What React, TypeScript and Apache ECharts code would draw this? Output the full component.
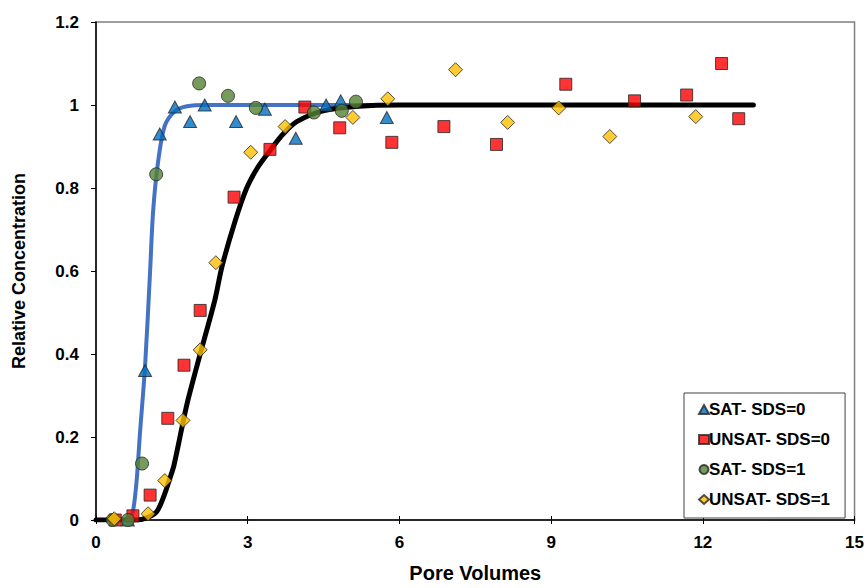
import React, { useEffect, useRef } from "react";
import * as echarts from "echarts";

// Measured data (Pore Volumes, Relative Concentration)
const satSds0: [number, number][] = [
  [0.63, 0], [0.97, 0.36], [1.26, 0.93], [1.56, 0.995], [1.86, 0.96], [2.15, 1.0],
  [2.77, 0.96], [3.34, 0.99], [3.95, 0.92], [4.55, 1.0], [4.84, 1.01], [5.75, 0.97],
];
const unsatSds0: [number, number][] = [
  [0.38, 0], [0.73, 0.01], [1.07, 0.06], [1.42, 0.245], [1.74, 0.373], [2.06, 0.505],
  [2.73, 0.778], [3.44, 0.893], [4.13, 0.995], [4.82, 0.945], [5.85, 0.91], [6.88, 0.948],
  [7.92, 0.905], [9.29, 1.05], [10.65, 1.01], [11.68, 1.024], [12.37, 1.1], [12.71, 0.967],
];
const satSds1: [number, number][] = [
  [0.33, 0], [0.63, 0], [0.91, 0.136], [1.19, 0.833], [2.04, 1.052], [2.61, 1.022],
  [3.16, 0.993], [4.31, 0.982], [4.86, 0.986], [5.14, 1.008],
];
const unsatSds1: [number, number][] = [
  [0.36, 0.003], [1.03, 0.015], [1.36, 0.095], [1.72, 0.24], [2.06, 0.41], [2.37, 0.62],
  [3.06, 0.886], [3.74, 0.948], [5.08, 0.97], [5.77, 1.015], [7.11, 1.085], [8.14, 0.958],
  [9.15, 0.993], [10.16, 0.924], [11.86, 0.972],
];
// Fitted curves
const satFit: [number, number][] = [
  [0, 0], [0.6, 0], [0.67, 0.004], [0.73, 0.02], [0.8, 0.09], [0.87, 0.21], [0.97, 0.37],
  [1.07, 0.6], [1.13, 0.745], [1.23, 0.865], [1.36, 0.95], [1.56, 0.985], [1.8, 0.997],
  [2.2, 1.0], [6, 1.0],
];
const unsatFit: [number, number][] = [
  [0, 0], [0.8, 0], [1.0, 0.005], [1.2, 0.02], [1.35, 0.06], [1.46, 0.1], [1.54, 0.131],
  [1.72, 0.235], [1.82, 0.29], [2.06, 0.4], [2.35, 0.53], [2.49, 0.61], [2.75, 0.72],
  [2.98, 0.8], [3.2, 0.85], [3.44, 0.89], [3.7, 0.93], [3.97, 0.96], [4.49, 0.986],
  [5.2, 0.997], [6, 1.0], [13, 1.0],
];
const seriesNames = ["SAT- SDS=0", "UNSAT- SDS=0", "SAT- SDS=1", "UNSAT- SDS=1"];
const xTicks = { min: 0, max: 15, interval: 3 };
const yTicks = { min: 0, max: 1.2, interval: 0.2 };

const FONT = "'Liberation Sans', Arial, sans-serif";

export default function App() {
  const ref = useRef<HTMLDivElement>(null);
  useEffect(() => {
    if (!ref.current) return;
    const chart = echarts.init(ref.current, undefined, { renderer: "svg" });
    const border = { borderColor: "#262626", borderWidth: 1 };
    chart.setOption({
      animation: false,
      backgroundColor: "#ffffff",
      textStyle: { fontFamily: FONT },
      grid: {
        left: 96, right: 12, top: 22, bottom: 63,
        show: true, borderColor: "#808080", borderWidth: 1.5, backgroundColor: "transparent",
      },
      legend: {
        data: seriesNames,
        orient: "vertical",
        left: 684,
        top: 393,
        padding: [8, 15, 10, 14],
        itemGap: 13,
        itemWidth: 10,
        itemHeight: 9,
        borderColor: "#404040",
        borderWidth: 1,
        backgroundColor: "#ffffff",
        textStyle: { fontFamily: FONT, fontSize: 17, fontWeight: "bold", color: "#000", lineHeight: 17, padding: [0, 0, 0, -5] },
      },
      xAxis: [
        {
          type: "value", ...xTicks,
          name: "Pore Volumes", nameLocation: "middle", nameGap: 43,
          nameTextStyle: { fontFamily: FONT, fontSize: 20, fontWeight: "bold", color: "#000" },
          axisLine: { show: true, onZero: false, lineStyle: { color: "#000", width: 1.5 } },
          axisTick: { show: true, length: 4, lineStyle: { color: "#000" } },
          axisLabel: { fontFamily: FONT, fontSize: 17, fontWeight: "bold", color: "#000", margin: 14 },
          splitLine: { show: false },
        },
        {
          type: "value", ...xTicks, position: "bottom",
          axisLine: { show: false, onZero: false },
          axisTick: { show: true, inside: true, length: 4, lineStyle: { color: "#000" } },
          axisLabel: { show: false },
          splitLine: { show: false },
        },
      ],
      yAxis: {
        type: "value", ...yTicks,
        name: "Relative Concentration", nameLocation: "middle", nameGap: 68,
        nameTextStyle: { fontFamily: FONT, fontSize: 18, fontWeight: "bold", color: "#000" },
        axisLine: { show: true, onZero: false, lineStyle: { color: "#000", width: 1.5 } },
        axisTick: { show: true, length: 5, lineStyle: { color: "#000" } },
        axisLabel: { fontFamily: FONT, fontSize: 17, fontWeight: "bold", color: "#000", margin: 17 },
        splitLine: { show: false },
      },
      series: [
        {
          type: "line", data: satFit, showSymbol: false, symbol: "none", smooth: 0.3,
          lineStyle: { color: "#4472C4", width: 4 }, z: 1, silent: true,
        },
        {
          type: "line", data: unsatFit, showSymbol: false, symbol: "none", smooth: 0.3,
          lineStyle: { color: "#000000", width: 5, cap: "round" }, z: 2, silent: true,
        },
        {
          name: seriesNames[0], type: "scatter", data: satSds0, symbol: "triangle", symbolSize: [13, 12],
          itemStyle: { color: "#0070C0", ...border }, z: 3,
        },
        {
          name: seriesNames[1], type: "scatter", data: unsatSds0, symbol: "rect", symbolSize: 12,
          itemStyle: { color: "#FF0000", ...border }, z: 3,
        },
        {
          name: seriesNames[2], type: "scatter", data: satSds1, symbol: "circle", symbolSize: 13,
          itemStyle: { color: "#548235", ...border }, z: 3,
        },
        {
          name: seriesNames[3], type: "scatter", data: unsatSds1, symbol: "diamond", symbolSize: 14,
          itemStyle: { color: "#FFC000", ...border }, z: 3,
        },
      ],
    });
    return () => chart.dispose();
  }, []);
  return <div ref={ref} style={{ width: 867, height: 588, position: "absolute", left: 0, top: 0 }} />;
}
